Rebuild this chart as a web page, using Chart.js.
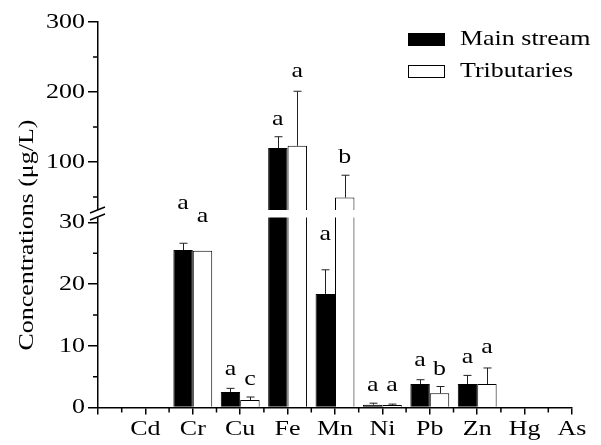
<!DOCTYPE html>
<html>
<head>
<meta charset="utf-8">
<script src="https://cdn.jsdelivr.net/npm/chart.js@4.4.1/dist/chart.umd.min.js"></script>
<style>
  html, body { margin: 0; padding: 0; background: #fff; }
</style>
</head>
<body>
<canvas id="chart" width="601" height="445"></canvas>
<script>
const elements = ['Cd', 'Cr', 'Cu', 'Fe', 'Mn', 'Ni', 'Pb', 'Zn', 'Hg', 'As'];

// mean concentrations (ug/L) and standard deviations
const mainStream    = [null, 25.5, 2.5, 120, 18.4, 0.45, 3.8, 3.8, null, null];
const mainStreamSD  = [null, 1.1, 0.6, 16, 3.9, 0.25, 0.7, 1.4, null, null];
const tributaries   = [null, 25.4, 1.2, 123, 49, 0.4, 2.3, 3.8, null, null];
const tributariesSD = [null, 0, 0.5, 78, 32, 0.15, 1.1, 2.6, null, null];

// significance letters and the height (ug/L) they sit at
const mainLetters   = [null, 'a', 'a', 'a', 'a', 'a', 'a', 'a', null, null];
const mainLetterAt  = [null, 40, 6.1, 160, 28, 3.5, 7.5, 8.0, null, null];
const tribLetters   = [null, 'a', 'c', 'a', 'b', 'a', 'b', 'a', null, null];
const tribLetterAt  = [null, 30.9, 4.5, 228.6, 105.7, 3.5, 6.0, 9.6, null, null];

// broken y axis
const lowerTicks = [0, 10, 20, 30];
const lowerMinor = [5, 15, 25];
const upperTicks = [100, 200, 300];
const upperMinor = [50, 150, 250];
const lowerMax = 31.5;
const upperMin = 27;
const upperTop = 300;

const FONT = 'Liberation Serif';
const TEXT_STRETCH = 1.18;

const canvas = document.getElementById('chart');
const ctx = canvas.getContext('2d');

// the original figure uses wide Times lettering, so stretch all text a bit
const plainFillText = ctx.fillText;
ctx.fillText = function (text, x, y, maxWidth) {
  this.save();
  this.translate(x, y);
  this.scale(TEXT_STRETCH, 1);
  if (maxWidth === undefined) plainFillText.call(this, text, 0, 0);
  else plainFillText.call(this, text, 0, 0, maxWidth / TEXT_STRETCH);
  this.restore();
};

const pad = arr => [null].concat(arr);
const lowPart = arr => pad(arr.map(v => v == null ? null : Math.min(v, lowerMax)));
const highPart = arr => pad(arr.map(v => v != null && v > upperMin ? v : null));

function valueToPixel(chart, v) {
  return v > lowerMax ? chart.scales.yUpper.getPixelForValue(v) : chart.scales.yLower.getPixelForValue(v);
}

const brokenAxisPlugin = {
  id: 'brokenAxis',
  afterDatasetsDraw(chart) {
    const c = chart.ctx;
    const area = chart.chartArea;
    const b = chart.scales.yUpper.bottom;
    c.save();
    // white gap across the bars and the axis
    c.fillStyle = '#fff';
    c.fillRect(area.left - 2, b - 3, area.right - area.left + 2, 7.5);

    // error bars
    c.strokeStyle = '#222';
    c.lineWidth = 1;
    const series = [[0, mainStream, mainStreamSD], [1, tributaries, tributariesSD]];
    series.forEach(([dsIndex, values, sds]) => {
      const meta = chart.getDatasetMeta(dsIndex);
      values.forEach((v, i) => {
        const sd = sds[i];
        if (v == null || !sd) return;
        const x = Math.round(meta.data[i + 1].x) + 0.5;
        const yTop = valueToPixel(chart, v);
        const yErr = valueToPixel(chart, v + sd);
        c.beginPath();
        c.moveTo(x, yTop);
        c.lineTo(x, yErr);
        c.moveTo(x - 4, yErr);
        c.lineTo(x + 4, yErr);
        c.stroke();
      });
    });

    // letters
    c.fillStyle = '#000';
    c.font = '22px "' + FONT + '"';
    c.textAlign = 'center';
    c.textBaseline = 'alphabetic';
    const letterSets = [[0, mainLetters, mainLetterAt], [1, tribLetters, tribLetterAt]];
    letterSets.forEach(([dsIndex, letters, at]) => {
      const meta = chart.getDatasetMeta(dsIndex);
      letters.forEach((t, i) => {
        if (!t) return;
        c.fillText(t, meta.data[i + 1].x, valueToPixel(chart, at[i]) + 5);
      });
    });

    // break marks
    c.strokeStyle = '#000';
    c.lineWidth = 1.4;
    c.beginPath();
    c.moveTo(area.left - 8, b);
    c.lineTo(area.left + 7, b - 6);
    c.moveTo(area.left - 8, b + 7);
    c.lineTo(area.left + 7, b + 1);
    c.stroke();
    c.restore();
  },
  afterDraw(chart) {
    const c = chart.ctx;
    const {x, yLower, yUpper} = chart.scales;
    const left = chart.chartArea.left;
    const bottom = chart.chartArea.bottom;
    c.save();
    c.strokeStyle = '#000';
    c.lineWidth = 1.5;
    c.beginPath();
    lowerMinor.forEach(v => {
      const y = yLower.getPixelForValue(v);
      c.moveTo(left, y); c.lineTo(left - 5, y);
    });
    upperMinor.forEach(v => {
      const y = yUpper.getPixelForValue(v);
      c.moveTo(left, y); c.lineTo(left - 5, y);
    });
    for (let i = 0; i < elements.length; i++) {
      const px = x.getPixelForValue(i + 0.5);
      c.moveTo(px, bottom); c.lineTo(px, bottom + 5);
    }
    c.stroke();

    // y axis title
    c.fillStyle = '#000';
    c.font = '22px "' + FONT + '"';
    c.translate(33, 235);
    c.rotate(-Math.PI / 2);
    c.textAlign = 'center';
    c.textBaseline = 'alphabetic';
    c.fillText('Concentrations (\u03bcg/L)', 0, 0);
    c.restore();

    // legend
    c.save();
    c.font = '22px "' + FONT + '"';
    c.textAlign = 'left';
    c.textBaseline = 'alphabetic';
    [0, 1].forEach((d, k) => {
      const ds = chart.data.datasets[d];
      const top = 33 + k * 32;
      c.fillStyle = ds.backgroundColor;
      c.fillRect(408, top, 37, 13);
      c.strokeStyle = ds.borderColor;
      c.lineWidth = 1;
      c.strokeRect(408.5, top + 0.5, 36, 12);
      c.fillStyle = '#000';
      c.fillText(ds.label, 460, top + 12);
    });
    c.restore();
  }
};

const tickFont = { family: FONT, size: 22 };

const yCommon = {
  type: 'linear',
  position: 'left',
  stack: 'conc',
  stacked: false,
  afterFit: s => { s.width = 98; },
  border: { color: '#000', width: 1.5 },
  grid: { drawOnChartArea: false, tickLength: 10, color: '#000', lineWidth: 1.5 },
  ticks: { font: tickFont, color: '#000', padding: 3 }
};

new Chart(ctx, {
  type: 'bar',
  data: {
    labels: [''].concat(elements),
    datasets: [
      { label: 'Main stream', data: lowPart(mainStream), yAxisID: 'yLower', stack: 'main',
        backgroundColor: '#000', borderColor: '#000', borderWidth: 1 },
      { label: 'Tributaries', data: lowPart(tributaries), yAxisID: 'yLower', stack: 'trib',
        backgroundColor: '#fff', borderColor: '#000', borderWidth: 1 },
      { label: 'Main stream', data: highPart(mainStream), yAxisID: 'yUpper', stack: 'main', base: upperMin,
        backgroundColor: '#000', borderColor: '#000', borderWidth: 1 },
      { label: 'Tributaries', data: highPart(tributaries), yAxisID: 'yUpper', stack: 'trib', base: upperMin,
        backgroundColor: '#fff', borderColor: '#000', borderWidth: 1 }
    ]
  },
  options: {
    responsive: false,
    devicePixelRatio: 1,
    animation: false,
    categoryPercentage: 0.82,
    barPercentage: 1,
    layout: { padding: { left: 0, right: 29, top: 22, bottom: 0 } },
    plugins: {
      legend: { display: false },
      tooltip: { enabled: false }
    },
    scales: {
      x: {
        type: 'category',
        offset: false,
        afterFit: s => { s.height = 37.5; },
        border: { color: '#000', width: 1.5 },
        grid: { offset: false, drawOnChartArea: false, tickLength: 7, color: '#000', lineWidth: 1.5 },
        ticks: { font: tickFont, color: '#000', padding: 2, maxRotation: 0, autoSkip: false }
      },
      yUpper: Object.assign({}, yCommon, {
        weight: 2,
        stackWeight: 191,
        min: upperMin,
        max: upperTop,
        afterBuildTicks: s => { s.ticks = upperTicks.map(v => ({ value: v })); }
      }),
      yLower: Object.assign({}, yCommon, {
        weight: 1,
        stackWeight: 194.5,
        min: 0,
        max: lowerMax,
        afterBuildTicks: s => { s.ticks = lowerTicks.map(v => ({ value: v })); }
      })
    }
  },
  plugins: [brokenAxisPlugin]
});
</script>
</body>
</html>
